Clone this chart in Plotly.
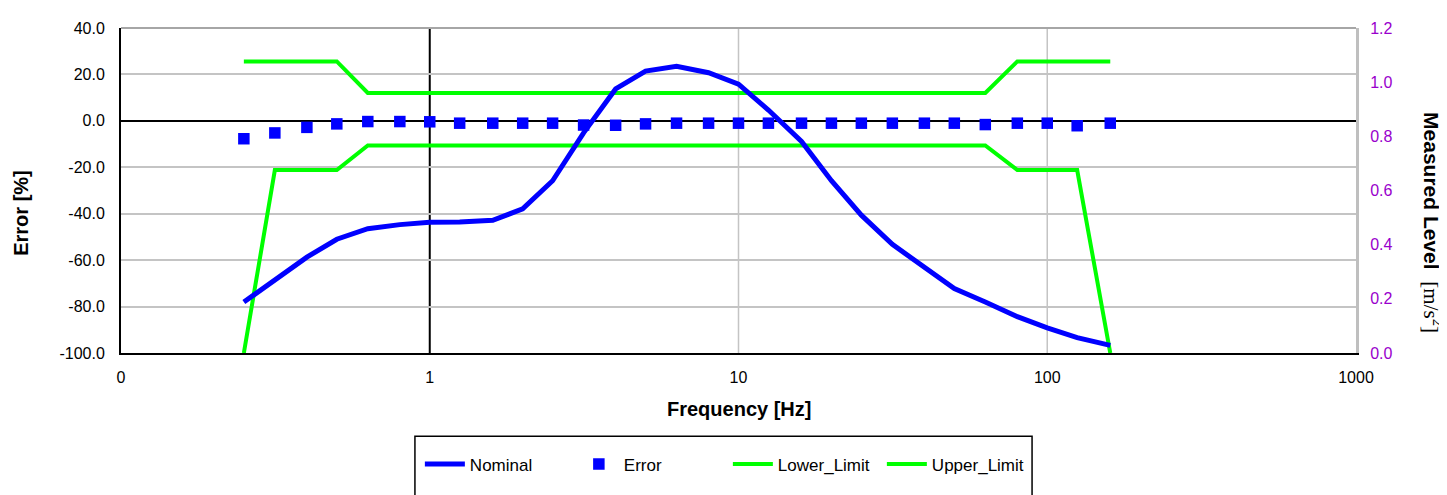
import plotly.graph_objects as go

freq = [0.25, 0.315, 0.4, 0.5, 0.63, 0.8, 1, 1.25, 1.6, 2, 2.5, 3.15, 4, 5, 6.3, 8,
        10, 12.5, 16, 20, 25, 31.5, 40, 50, 63, 80, 100, 125, 160]

nominal = [0.188, 0.270, 0.354, 0.420, 0.459, 0.474, 0.483, 0.484, 0.490, 0.532,
           0.636, 0.813, 0.975, 1.041, 1.059, 1.035, 0.993, 0.897, 0.781, 0.636,
           0.509, 0.401, 0.314, 0.238, 0.188, 0.134, 0.093, 0.057, 0.028]

error = [-7.7, -5.2, -2.8, -1.3, -0.3, -0.3, -0.4, -1.0, -1.0, -1.0, -1.0, -1.8,
         -1.9, -1.3, -1.0, -1.0, -1.0, -1.0, -1.0, -1.0, -1.0, -1.0, -1.0, -1.0,
         -1.6, -1.0, -1.0, -2.1, -1.0]

lower_limit = [-100, -21.2, -21.2, -21.2, -10.6, -10.6, -10.6, -10.6, -10.6, -10.6,
               -10.6, -10.6, -10.6, -10.6, -10.6, -10.6, -10.6, -10.6, -10.6, -10.6,
               -10.6, -10.6, -10.6, -10.6, -10.6, -21.2, -21.2, -21.2, -100]

upper_limit = [25.6, 25.6, 25.6, 25.6, 12.0, 12.0, 12.0, 12.0, 12.0, 12.0, 12.0, 12.0,
               12.0, 12.0, 12.0, 12.0, 12.0, 12.0, 12.0, 12.0, 12.0, 12.0, 12.0, 12.0,
               12.0, 25.6, 25.6, 25.6, 25.6]

x_tickvals = [0.1, 1, 10, 100, 1000]
x_ticktext = ["0", "1", "10", "100", "1000"]
x_gridvals = [10, 100]
y_tickvals = [-100, -80, -60, -40, -20, 0, 20, 40]
y_ticktext = ["-100.0", "-80.0", "-60.0", "-40.0", "-20.0", "0.0", "20.0", "40.0"]
y2_tickvals = [0.0, 0.2, 0.4, 0.6, 0.8, 1.0, 1.2]
y2_ticktext = ["0.0", "0.2", "0.4", "0.6", "0.8", "1.0", "1.2"]

FONT = "Liberation Sans, Arial, sans-serif"
BLUE = "#0000FF"
GREEN = "#00FF00"
PURPLE = "#9900CC"
GRID = "#C4C4C4"

fig = go.Figure()
fig.add_trace(go.Scatter(x=freq, y=error, name="Error", mode="markers",
                         marker=dict(symbol="square", size=11.5, color=BLUE),
                         yaxis="y", legendrank=2))
fig.add_trace(go.Scatter(x=freq, y=lower_limit, name="Lower_Limit", mode="lines",
                         line=dict(color=GREEN, width=4), yaxis="y", legendrank=3))
fig.add_trace(go.Scatter(x=freq, y=upper_limit, name="Upper_Limit", mode="lines",
                         line=dict(color=GREEN, width=4), yaxis="y", legendrank=4))
fig.add_trace(go.Scatter(x=freq, y=nominal, name="Nominal", mode="lines",
                         line=dict(color=BLUE, width=5), yaxis="y2", legendrank=1))

shapes = [
    dict(type="line", xref="x", yref="paper", x0=g, x1=g, y0=0, y1=1,
         line=dict(color=GRID, width=1.5), layer="below")
    for g in x_gridvals
]
shapes += [
    dict(type="line", xref="x", yref="paper", x0=1, x1=1, y0=0, y1=1,
         line=dict(color="black", width=2), layer="below"),
    dict(type="line", xref="paper", yref="paper", x0=0, x1=1, y0=1, y1=1,
         line=dict(color="#A6A6A6", width=2), layer="below"),
    dict(type="rect", xref="paper", yref="paper", x0=0.238, x1=0.7377,
         y0=-0.50, y1=-0.256, line=dict(color="black", width=1.5),
         fillcolor="rgba(0,0,0,0)"),
]

fig.update_layout(
    width=1439, height=487,
    margin=dict(l=113, r=91, t=13, b=142),
    paper_bgcolor="white", plot_bgcolor="white",
    font=dict(family=FONT, size=16, color="black"),
    showlegend=True,
    legend=dict(orientation="h", x=0.242, xanchor="left", y=-0.343, yanchor="middle",
                font=dict(size=17, family=FONT), bgcolor="rgba(0,0,0,0)",
                entrywidth=99, entrywidthmode="pixels", traceorder="normal",
                itemwidth=40),
    xaxis=dict(type="log", range=[-1, 3], tickvals=x_tickvals, ticktext=x_ticktext,
               showgrid=False,
               showline=True, linecolor="black", linewidth=2, mirror=False,
               ticks="", ticklabelstandoff=9, zeroline=False,
               tickfont=dict(size=16)),
    yaxis=dict(range=[-100, 40], tickvals=y_tickvals, ticktext=y_ticktext,
               showgrid=True, gridcolor=GRID, gridwidth=1.5,
               zeroline=True, zerolinecolor="black", zerolinewidth=2,
               showline=True, linecolor="black", linewidth=2,
               ticks="", ticklabelstandoff=11, tickfont=dict(size=16)),
    yaxis2=dict(range=[0, 1.2], tickvals=y2_tickvals, ticktext=y2_ticktext,
                overlaying="y", side="right", showgrid=False, zeroline=False,
                showline=True, linecolor="#BFBFBF", linewidth=3,
                ticks="", ticklabelstandoff=8,
                tickfont=dict(size=16, color=PURPLE)),
    shapes=shapes,
    annotations=[
        dict(text="<b>Frequency [Hz]</b>", xref="paper", yref="paper", x=0.5,
             y=-0.172, xanchor="center", yanchor="middle", showarrow=False,
             font=dict(size=20, family=FONT)),
        dict(text="<b>Error [%]</b>", xref="paper", yref="paper", x=-0.0805,
             y=0.43, xanchor="center", yanchor="middle", showarrow=False,
             textangle=-90, font=dict(size=20, family=FONT)),
        dict(text="<b>Measured Level</b>  <span style='font-family:Liberation Serif'>[m/s<sup>2</sup>]</span>",
             xref="paper", yref="paper", x=1.0623, y=0.40, xanchor="center",
             yanchor="middle", showarrow=False, textangle=90,
             font=dict(size=21, family=FONT)),
    ],
)

fig.write_html("out.html")
